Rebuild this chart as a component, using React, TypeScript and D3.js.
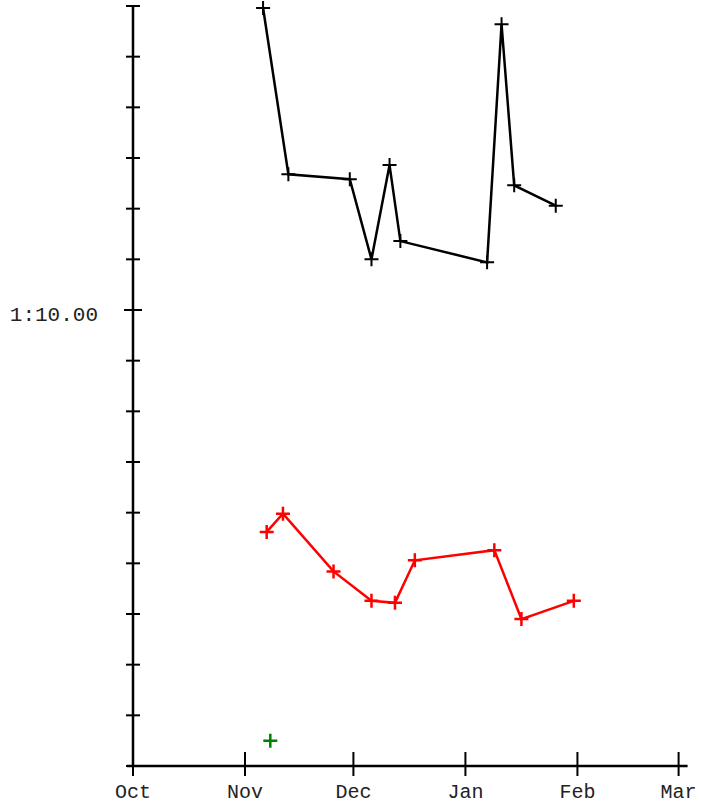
import { useEffect, useRef } from 'react'
import * as d3 from 'd3'

// lap times in seconds, dates as UTC strings
const BLACK_DATES = ['2006-11-06', '2006-11-13', '2006-11-30', '2006-12-06', '2006-12-11', '2006-12-14', '2007-01-07', '2007-01-11', '2007-01-14T12', '2007-01-26']
const BLACK_TIMES = [72.98, 71.34, 71.29, 70.50, 71.43, 70.68, 70.47, 72.82, 71.23, 71.03]

const RED_DATES = ['2006-11-07', '2006-11-11T12', '2006-11-25T12', '2006-12-06', '2006-12-12T12', '2006-12-18', '2007-01-09', '2007-01-16T12', '2007-01-31']
const RED_TIMES = [67.81, 67.99, 67.42, 67.13, 67.11, 67.53, 67.63, 66.95, 67.13]

const GREEN_DATES = ['2006-11-08']
const GREEN_TIMES = [65.75]

const MONTH_TICKS = ['2006-10-01', '2006-11-01', '2006-12-01', '2007-01-01', '2007-02-01', '2007-03-01']
const Y_MIN = 65.5
const Y_MAX = 73
const Y_STEP = 0.5
const Y_MAJOR = [70]

const parse = (s: string) => new Date(s.length > 10 ? s + ':00:00Z' : s + 'T00:00:00Z')

const fmtTime = (v: number) => {
  const m = Math.floor(v / 60)
  const s = (v - m * 60).toFixed(2).padStart(5, '0')
  return `${m}:${s}`
}

export default function App() {
  const svgRef = useRef<SVGSVGElement>(null)

  useEffect(() => {
    if (!svgRef.current) return
    const svg = d3.select(svgRef.current)
    svg.selectAll('*').remove()

    const W = 701, H = 803
    const x0 = 133, x1 = 678.6
    const yTop = 6, yBot = 766
    const font = '"Liberation Mono", "Courier New", monospace'

    svg.attr('width', W).attr('height', H)

    const xScale = d3.scaleUtc()
      .domain([parse(MONTH_TICKS[0]), parse(MONTH_TICKS[MONTH_TICKS.length - 1])])
      .range([x0, x1])

    const yScale = d3.scaleLinear().domain([Y_MIN, Y_MAX]).range([yBot, yTop])

    // y axis
    svg.append('line')
      .attr('x1', x0).attr('x2', x0).attr('y1', yTop).attr('y2', yBot)
      .attr('stroke', '#000').attr('stroke-width', 2.5)

    const yTicks = d3.range(Y_MIN, Y_MAX + 1e-6, Y_STEP)
    yTicks.forEach(v => {
      const major = Y_MAJOR.some(m => Math.abs(m - v) < 1e-6)
      const len = major ? 9 : 7
      svg.append('line')
        .attr('x1', x0 - len).attr('x2', x0 + len)
        .attr('y1', yScale(v)).attr('y2', yScale(v))
        .attr('stroke', '#000').attr('stroke-width', 2)
      if (major) {
        svg.append('text')
          .attr('x', 98).attr('y', yScale(v) + 11)
          .attr('text-anchor', 'end')
          .attr('font-family', font).attr('font-size', 21).attr('fill', '#222')
          .text(fmtTime(v))
      }
    })

    // x axis
    svg.append('line')
      .attr('x1', x0 - 6).attr('x2', x1 + 9).attr('y1', yBot).attr('y2', yBot)
      .attr('stroke', '#000').attr('stroke-width', 2.5)

    MONTH_TICKS.map(parse).forEach(d => {
      const x = xScale(d)
      svg.append('line')
        .attr('x1', x).attr('x2', x).attr('y1', yBot - 14).attr('y2', yBot + 10)
        .attr('stroke', '#000').attr('stroke-width', 2)
      svg.append('text')
        .attr('x', x).attr('y', 798)
        .attr('text-anchor', 'middle')
        .attr('font-family', font).attr('font-size', 20).attr('fill', '#222')
        .text(d3.utcFormat('%b')(d))
    })

    const series = [
      { dates: BLACK_DATES, times: BLACK_TIMES, color: '#000', line: true, mark: 2 },
      { dates: RED_DATES, times: RED_TIMES, color: '#ff0000', line: true, mark: 2.5 },
      { dates: GREEN_DATES, times: GREEN_TIMES, color: '#008000', line: false, mark: 2.5 },
    ]

    const line = d3.line<[number, number]>().x(d => d[0]).y(d => d[1])

    series.forEach(s => {
      const pts: [number, number][] = s.dates.map((d, i) => [xScale(parse(d)), yScale(s.times[i])])
      if (s.line) {
        svg.append('path')
          .attr('d', line(pts))
          .attr('fill', 'none').attr('stroke', s.color).attr('stroke-width', 2.5)
      }
      // plus markers
      pts.forEach(([px, py]) => {
        svg.append('path')
          .attr('d', `M${px - 7},${py}H${px + 7}M${px},${py - 7}V${py + 7}`)
          .attr('stroke', s.color).attr('stroke-width', s.mark).attr('fill', 'none')
      })
    })
  }, [])

  return <svg ref={svgRef} style={{ position: 'absolute', left: 0, top: 0 }} />
}
